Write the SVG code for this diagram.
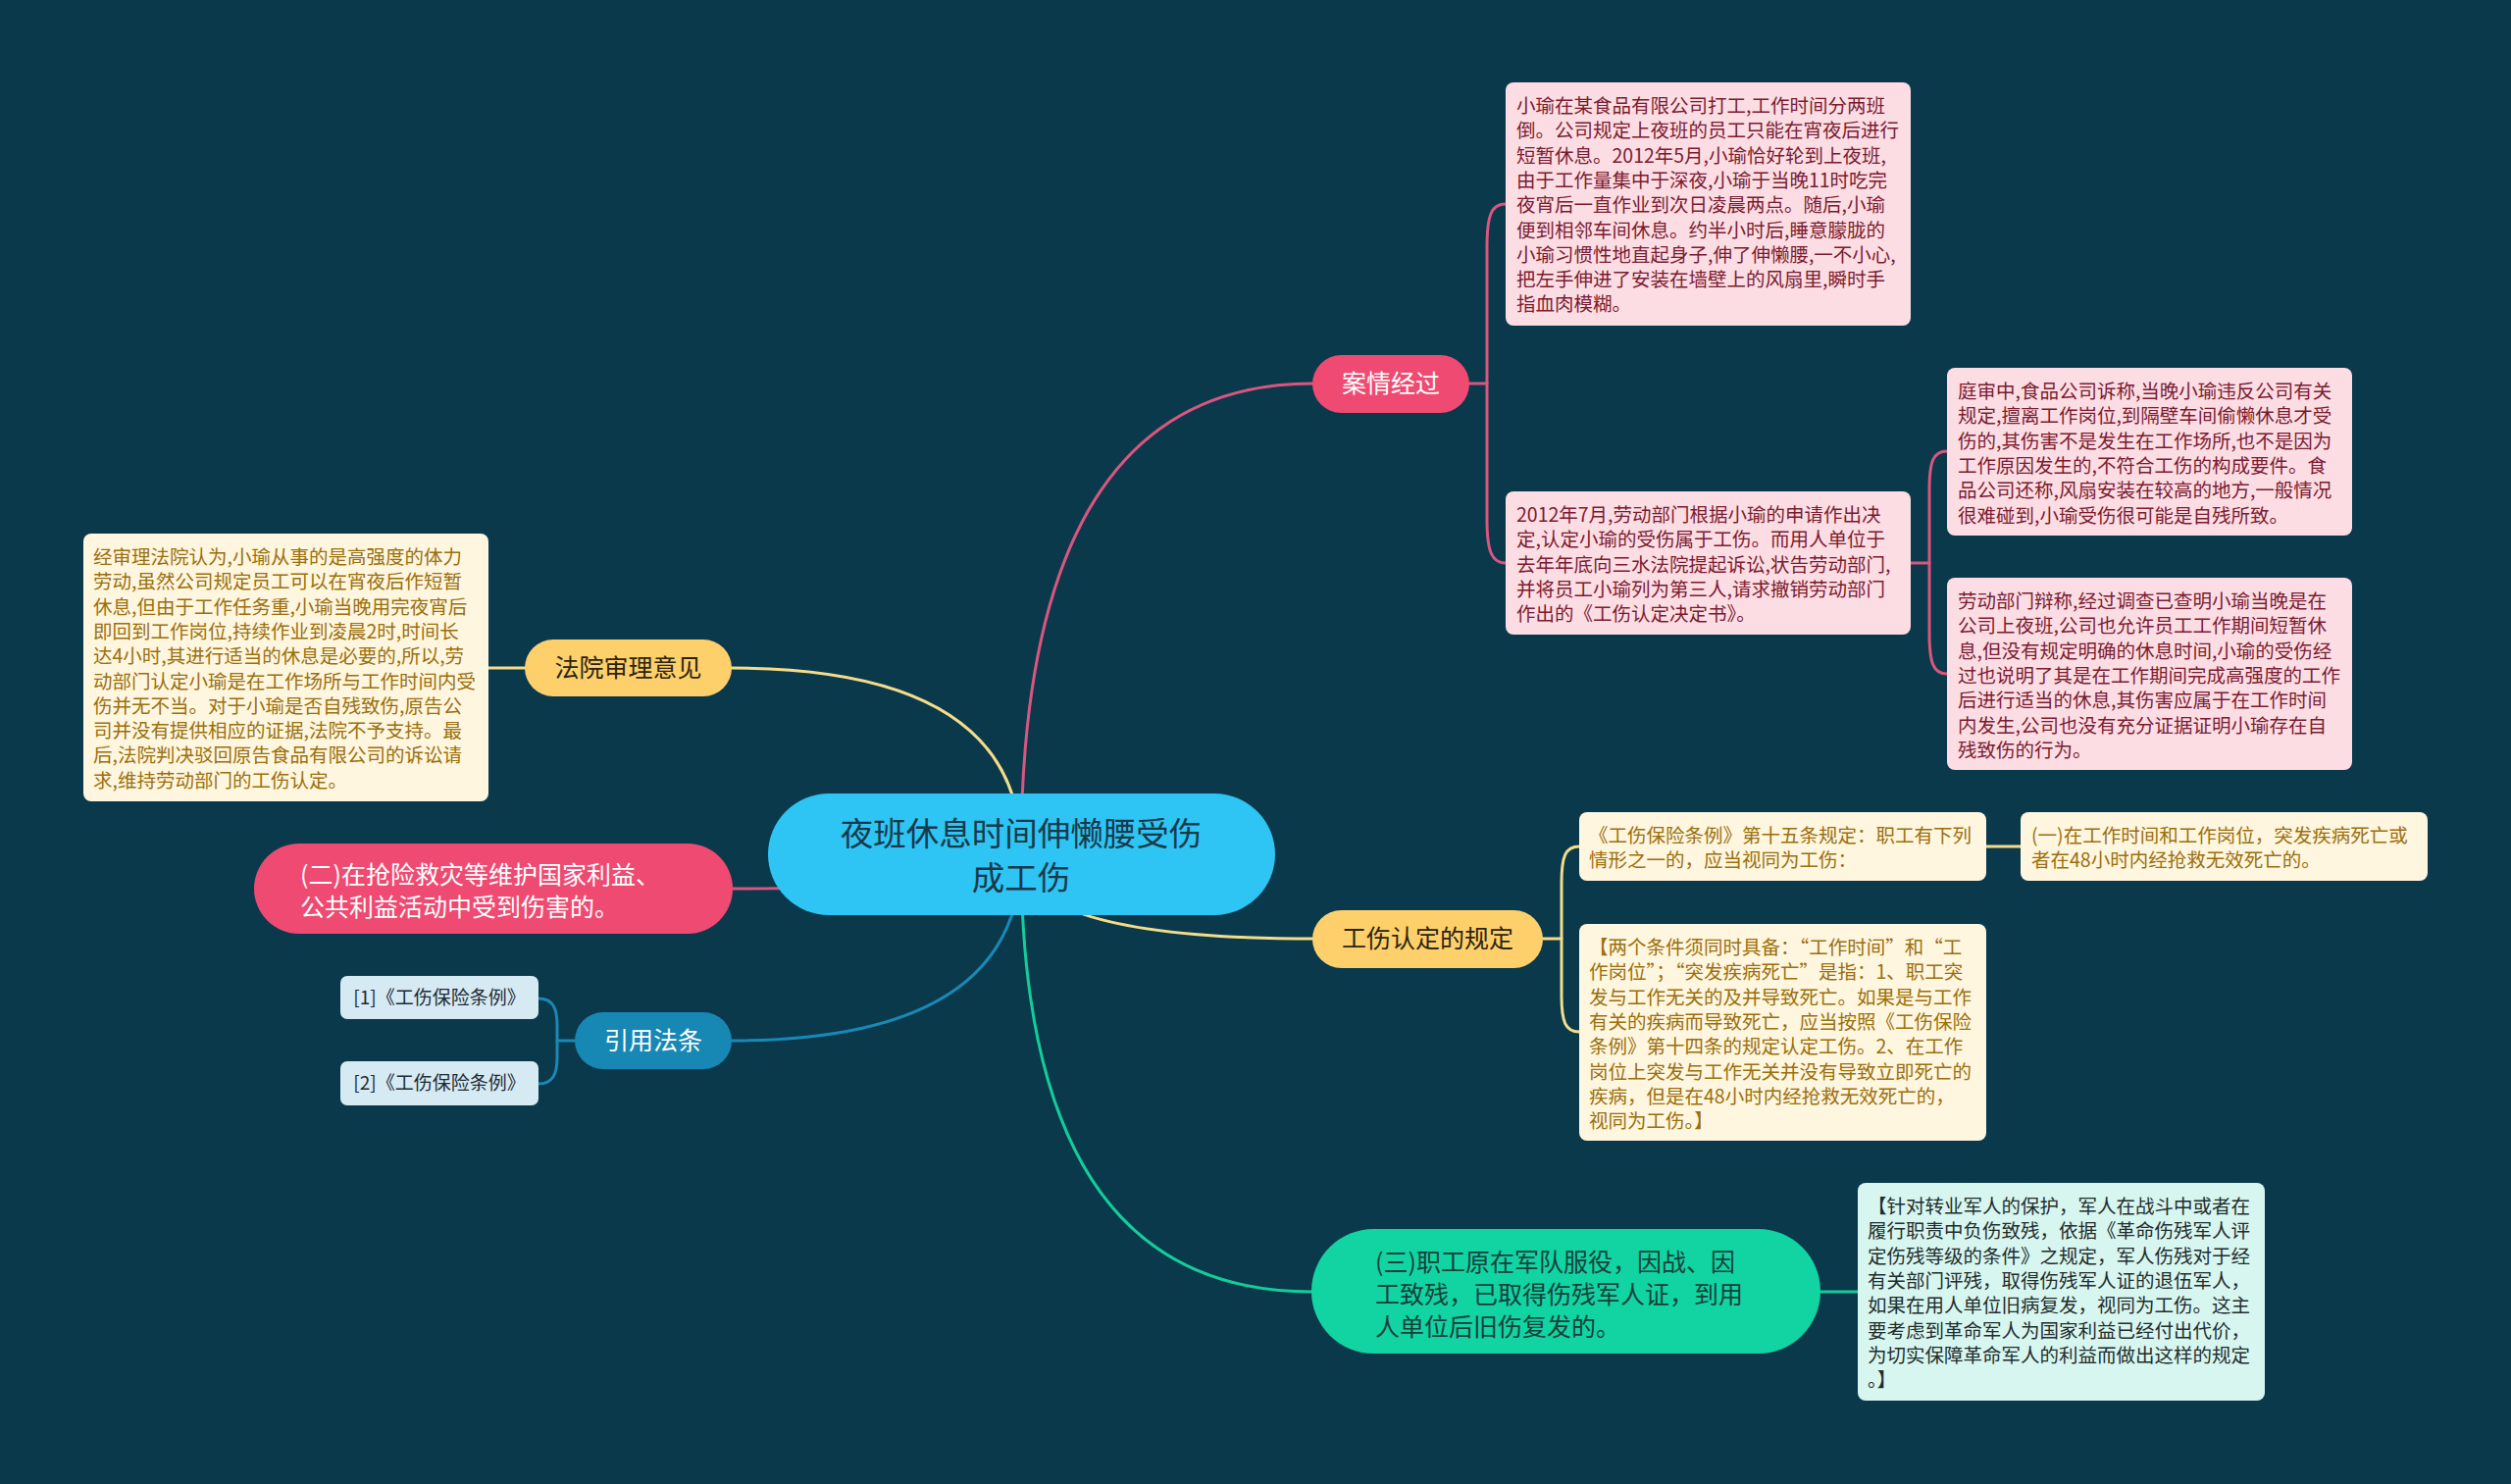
<svg xmlns="http://www.w3.org/2000/svg" width="2560" height="1513" viewBox="0 0 2560 1513">
<style>
text{font-family:"Noto Sans CJK SC","Noto Sans",sans-serif;}
.c{fill:none;stroke-width:3;stroke-linecap:round;}
.pk{stroke:#d9567e;}
.yl{stroke:#f4dc8a;}
.gr{stroke:#14cc9c;}
.bl{stroke:#1a88b5;}
.t1{font-size:25px;}
.card{font-size:19.5px;}
.pinkcard{fill:#fcdde4;}
.pinktxt{fill:#7b1b30;}
.creamcard{fill:#fef6df;}
.creamtxt{fill:#9b6f0c;}
</style>
<rect width="2560" height="1513" fill="#0a394c"/>

<g id="connectors">
  <path class="c pk" d="M1041,871 Q1041,391 1338,391"/>
  <path class="c yl" d="M1041,871 Q1041,681 746,681"/>
  <path class="c pk" d="M1041,871 Q1041,906 747,906"/>
  <path class="c bl" d="M1041,871 Q1041,1061 746,1061"/>
  <path class="c yl" d="M1041,871 Q1041,957 1338,957"/>
  <path class="c gr" d="M1041,871 Q1041,1317 1337,1317"/>
  <!-- 案情经过 bracket -->
  <path class="c pk" d="M1498,391 H1516"/>
  <path class="c pk" d="M1535,208 C1521,208 1516,218 1516,252 V530 C1516,562 1521,574 1535,574"/>
  <!-- 2012 bracket -->
  <path class="c pk" d="M1948,574 H1967"/>
  <path class="c pk" d="M1985,460 C1971,460 1967,470 1967,500 V645 C1967,676 1971,687 1985,687"/>
  <!-- 法院 -->
  <path class="c yl" d="M535,681 H498"/>
  <!-- 工伤认定 bracket -->
  <path class="c yl" d="M1573,957 H1592"/>
  <path class="c yl" d="M1610,863 C1596,863 1592,873 1592,900 V1015 C1592,1042 1596,1052 1610,1052"/>
  <path class="c yl" d="M2025,863 H2060"/>
  <!-- 三 -->
  <path class="c gr" d="M1856,1317 H1894"/>
  <!-- 引用法条 bracket -->
  <path class="c bl" d="M586,1061 H568"/>
  <path class="c bl" d="M549,1018 C563,1018 568,1027 568,1045 V1078 C568,1096 563,1105 549,1105"/>
</g>

<g id="center">
  <rect x="783" y="809" width="517" height="124" rx="62" fill="#2ec4f3"/>
  <text x="1041" y="862" font-size="33.5" fill="#17394a" text-anchor="middle">夜班休息时间伸懒腰受伤</text>
  <text x="1041" y="907" font-size="33.5" fill="#17394a" text-anchor="middle">成工伤</text>
</g>

<g id="node-anqing">
  <rect x="1338" y="362" width="160" height="59" rx="29.5" fill="#ef4a72"/>
  <text class="t1" x="1418" y="400" fill="#ffffff" text-anchor="middle">案情经过</text>
</g>

<g id="node-anqing-1">
  <rect class="pinkcard" x="1535" y="84" width="413" height="248" rx="8"/>
  <text class="card pinktxt">
    <tspan x="1546" y="115">小瑜在某食品有限公司打工,工作时间分两班</tspan>
    <tspan x="1546" dy="25.3">倒。公司规定上夜班的员工只能在宵夜后进行</tspan>
    <tspan x="1546" dy="25.3">短暂休息。2012年5月,小瑜恰好轮到上夜班,</tspan>
    <tspan x="1546" dy="25.3">由于工作量集中于深夜,小瑜于当晚11时吃完</tspan>
    <tspan x="1546" dy="25.3">夜宵后一直作业到次日凌晨两点。随后,小瑜</tspan>
    <tspan x="1546" dy="25.3">便到相邻车间休息。约半小时后,睡意朦胧的</tspan>
    <tspan x="1546" dy="25.3">小瑜习惯性地直起身子,伸了伸懒腰,一不小心,</tspan>
    <tspan x="1546" dy="25.3">把左手伸进了安装在墙壁上的风扇里,瞬时手</tspan>
    <tspan x="1546" dy="25.3">指血肉模糊。</tspan>
  </text>
</g>

<g id="node-anqing-2">
  <rect class="pinkcard" x="1535" y="501" width="413" height="146" rx="8"/>
  <text class="card pinktxt">
    <tspan x="1546" y="532">2012年7月,劳动部门根据小瑜的申请作出决</tspan>
    <tspan x="1546" dy="25.3">定,认定小瑜的受伤属于工伤。而用人单位于</tspan>
    <tspan x="1546" dy="25.3">去年年底向三水法院提起诉讼,状告劳动部门,</tspan>
    <tspan x="1546" dy="25.3">并将员工小瑜列为第三人,请求撤销劳动部门</tspan>
    <tspan x="1546" dy="25.3">作出的《工伤认定决定书》。</tspan>
  </text>
</g>

<g id="node-anqing-2a">
  <rect class="pinkcard" x="1985" y="375" width="413" height="171" rx="8"/>
  <text class="card pinktxt">
    <tspan x="1996" y="406">庭审中,食品公司诉称,当晚小瑜违反公司有关</tspan>
    <tspan x="1996" dy="25.3">规定,擅离工作岗位,到隔壁车间偷懒休息才受</tspan>
    <tspan x="1996" dy="25.3">伤的,其伤害不是发生在工作场所,也不是因为</tspan>
    <tspan x="1996" dy="25.3">工作原因发生的,不符合工伤的构成要件。食</tspan>
    <tspan x="1996" dy="25.3">品公司还称,风扇安装在较高的地方,一般情况</tspan>
    <tspan x="1996" dy="25.3">很难碰到,小瑜受伤很可能是自残所致。</tspan>
  </text>
</g>

<g id="node-anqing-2b">
  <rect class="pinkcard" x="1985" y="589" width="413" height="196" rx="8"/>
  <text class="card pinktxt">
    <tspan x="1996" y="620">劳动部门辩称,经过调查已查明小瑜当晚是在</tspan>
    <tspan x="1996" dy="25.3">公司上夜班,公司也允许员工工作期间短暂休</tspan>
    <tspan x="1996" dy="25.3">息,但没有规定明确的休息时间,小瑜的受伤经</tspan>
    <tspan x="1996" dy="25.3">过也说明了其是在工作期间完成高强度的工作</tspan>
    <tspan x="1996" dy="25.3">后进行适当的休息,其伤害应属于在工作时间</tspan>
    <tspan x="1996" dy="25.3">内发生,公司也没有充分证据证明小瑜存在自</tspan>
    <tspan x="1996" dy="25.3">残致伤的行为。</tspan>
  </text>
</g>

<g id="node-gongshang">
  <rect x="1338" y="928" width="235" height="59" rx="29.5" fill="#fdd06c"/>
  <text class="t1" x="1455.5" y="966" fill="#2c2410" text-anchor="middle">工伤认定的规定</text>
</g>

<g id="node-gongshang-1">
  <rect class="creamcard" x="1610" y="828" width="415" height="70" rx="8"/>
  <text class="card creamtxt">
    <tspan x="1620" y="859">《工伤保险条例》第十五条规定：职工有下列</tspan>
    <tspan x="1620" dy="25.3">情形之一的，应当视同为工伤：</tspan>
  </text>
</g>

<g id="node-gongshang-1a">
  <rect class="creamcard" x="2060" y="828" width="415" height="70" rx="8"/>
  <text class="card creamtxt">
    <tspan x="2071" y="859">(一)在工作时间和工作岗位，突发疾病死亡或</tspan>
    <tspan x="2071" dy="25.3">者在48小时内经抢救无效死亡的。</tspan>
  </text>
</g>

<g id="node-gongshang-2">
  <rect class="creamcard" x="1610" y="942" width="415" height="221" rx="8"/>
  <text class="card creamtxt">
    <tspan x="1620" y="973">【两个条件须同时具备：“工作时间”和“工</tspan>
    <tspan x="1620" dy="25.3">作岗位”；“突发疾病死亡”是指：1、职工突</tspan>
    <tspan x="1620" dy="25.3">发与工作无关的及并导致死亡。如果是与工作</tspan>
    <tspan x="1620" dy="25.3">有关的疾病而导致死亡，应当按照《工伤保险</tspan>
    <tspan x="1620" dy="25.3">条例》第十四条的规定认定工伤。2、在工作</tspan>
    <tspan x="1620" dy="25.3">岗位上突发与工作无关并没有导致立即死亡的</tspan>
    <tspan x="1620" dy="25.3">疾病，但是在48小时内经抢救无效死亡的，</tspan>
    <tspan x="1620" dy="25.3">视同为工伤。】</tspan>
  </text>
</g>

<g id="node-san">
  <rect x="1337" y="1253" width="519" height="127" rx="63.5" fill="#11d4a2"/>
  <text class="t1" fill="#16403a">
    <tspan x="1402" y="1296">(三)职工原在军队服役，因战、因</tspan>
    <tspan x="1402" y="1329">工致残，已取得伤残军人证，到用</tspan>
    <tspan x="1402" y="1362">人单位后旧伤复发的。</tspan>
  </text>
</g>

<g id="node-san-1">
  <rect x="1894" y="1206" width="415" height="222" rx="8" fill="#d7f6ef"/>
  <text class="card" fill="#1f2d2d">
    <tspan x="1904" y="1237">【针对转业军人的保护，军人在战斗中或者在</tspan>
    <tspan x="1904" dy="25.3">履行职责中负伤致残，依据《革命伤残军人评</tspan>
    <tspan x="1904" dy="25.3">定伤残等级的条件》之规定，军人伤残对于经</tspan>
    <tspan x="1904" dy="25.3">有关部门评残，取得伤残军人证的退伍军人，</tspan>
    <tspan x="1904" dy="25.3">如果在用人单位旧病复发，视同为工伤。这主</tspan>
    <tspan x="1904" dy="25.3">要考虑到革命军人为国家利益已经付出代价，</tspan>
    <tspan x="1904" dy="25.3">为切实保障革命军人的利益而做出这样的规定</tspan>
    <tspan x="1904" dy="25.3">。】</tspan>
  </text>
</g>

<g id="node-fayuan">
  <rect x="535" y="652" width="211" height="58" rx="29" fill="#fdd06c"/>
  <text class="t1" x="640.5" y="690" fill="#2c2410" text-anchor="middle">法院审理意见</text>
</g>

<g id="node-fayuan-1">
  <rect class="creamcard" x="85" y="544" width="413" height="273" rx="8"/>
  <text class="card creamtxt">
    <tspan x="95" y="575">经审理法院认为,小瑜从事的是高强度的体力</tspan>
    <tspan x="95" dy="25.3">劳动,虽然公司规定员工可以在宵夜后作短暂</tspan>
    <tspan x="95" dy="25.3">休息,但由于工作任务重,小瑜当晚用完夜宵后</tspan>
    <tspan x="95" dy="25.3">即回到工作岗位,持续作业到凌晨2时,时间长</tspan>
    <tspan x="95" dy="25.3">达4小时,其进行适当的休息是必要的,所以,劳</tspan>
    <tspan x="95" dy="25.3">动部门认定小瑜是在工作场所与工作时间内受</tspan>
    <tspan x="95" dy="25.3">伤并无不当。对于小瑜是否自残致伤,原告公</tspan>
    <tspan x="95" dy="25.3">司并没有提供相应的证据,法院不予支持。最</tspan>
    <tspan x="95" dy="25.3">后,法院判决驳回原告食品有限公司的诉讼请</tspan>
    <tspan x="95" dy="25.3">求,维持劳动部门的工伤认定。</tspan>
  </text>
</g>

<g id="node-er">
  <rect x="259" y="860" width="488" height="92" rx="46" fill="#ef4a72"/>
  <text class="t1" fill="#ffffff">
    <tspan x="306" y="901">(二)在抢险救灾等维护国家利益、</tspan>
    <tspan x="306" y="934">公共利益活动中受到伤害的。</tspan>
  </text>
</g>

<g id="node-yinyong">
  <rect x="586" y="1032" width="160" height="58" rx="29" fill="#1788b4"/>
  <text class="t1" x="666" y="1070" fill="#ffffff" text-anchor="middle">引用法条</text>
</g>

<g id="node-yinyong-1">
  <rect x="347" y="995" width="202" height="44" rx="7" fill="#d5eaf3"/>
  <text x="448" y="1024" font-size="19" fill="#1e2a35" text-anchor="middle">[1]《工伤保险条例》</text>
</g>

<g id="node-yinyong-2">
  <rect x="347" y="1082" width="202" height="45" rx="7" fill="#d5eaf3"/>
  <text x="448" y="1111" font-size="19" fill="#1e2a35" text-anchor="middle">[2]《工伤保险条例》</text>
</g>
</svg>
